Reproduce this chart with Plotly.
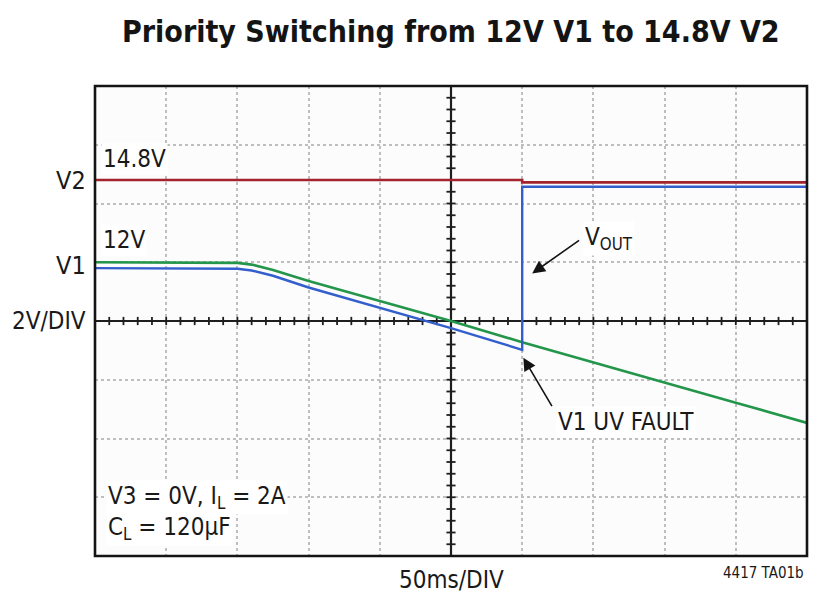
import plotly.graph_objects as go

# ---- data (time in ms, 50 ms/div; voltage in V, 2 V/div) ----
v2_t = [0, 300, 300, 500]
v2_v = [14.8, 14.8, 14.72, 14.72]

v1_t = [0, 90, 100, 110, 125, 150, 200, 250, 300, 350, 400, 450, 500]
v1_v = [12.0, 12.0, 11.98, 11.92, 11.74, 11.36, 10.68, 10.0, 9.28, 8.6, 7.92, 7.22, 6.53]

vout_t = [0, 90, 100, 110, 125, 150, 200, 250, 300, 300, 500]
vout_v = [11.8, 11.8, 11.78, 11.72, 11.54, 11.14, 10.45, 9.76, 9.02, 14.57, 14.57]

x_range = [0, 500]
y_range = [2, 18]
x_div = 50
y_div = 2
x_center = 250
y_center = 10

FONT = "DejaVu Sans Condensed, Liberation Sans Narrow, Arial Narrow, sans-serif"
RED = "rgb(165,35,45)"
GREEN = "rgb(35,150,75)"
BLUE = "rgb(50,95,205)"

fig = go.Figure()
fig.add_trace(go.Scatter(x=v1_t, y=v1_v, mode="lines", line=dict(color=GREEN, width=2.6), hoverinfo="skip"))
fig.add_trace(go.Scatter(x=v2_t, y=v2_v, mode="lines", line=dict(color=RED, width=2.6), hoverinfo="skip"))
fig.add_trace(go.Scatter(x=vout_t, y=vout_v, mode="lines", line=dict(color=BLUE, width=2.4), hoverinfo="skip"))

AX = "rgb(30,30,30)"
shapes = []
# center cross axes
shapes.append(dict(type="line", xref="x", yref="y", x0=x_range[0], x1=x_range[1], y0=y_center, y1=y_center,
                   line=dict(color=AX, width=2.2), layer="between"))
shapes.append(dict(type="line", xref="x", yref="y", x0=x_center, x1=x_center, y0=y_range[0], y1=y_range[1],
                   line=dict(color=AX, width=2.2), layer="between"))
# minor ticks on the center axes (5 per division)
n_x = int((x_range[1] - x_range[0]) / x_div * 5)
for i in range(1, n_x):
    xt = x_range[0] + i * x_div / 5
    shapes.append(dict(type="line", xref="x", yref="y", x0=xt, x1=xt, y0=y_center - 0.14, y1=y_center + 0.14,
                       line=dict(color=AX, width=1.8), layer="between"))
n_y = int((y_range[1] - y_range[0]) / y_div * 5)
for i in range(1, n_y):
    yt = y_range[0] + i * y_div / 5
    shapes.append(dict(type="line", xref="x", yref="y", x0=x_center - 3.2, x1=x_center + 3.2, y0=yt, y1=yt,
                       line=dict(color=AX, width=1.8), layer="between"))
# frame
shapes.append(dict(type="rect", xref="paper", yref="paper", x0=0, x1=1, y0=0, y1=1,
                   line=dict(color="rgb(20,20,20)", width=2.6)))

ann = []
def txt(x, y, s, size=24, xanchor="left", xref="x", yref="y", bg=None, **kw):
    d = dict(x=x, y=y, xref=xref, yref=yref, text=s, showarrow=False, xanchor=xanchor, yanchor="middle",
             font=dict(family=FONT, size=size, color="rgb(25,25,25)"))
    if bg:
        d["bgcolor"] = bg
    d.update(kw)
    ann.append(d)

txt(-0.01, 14.8, "V2", size=25, xanchor="right", xref="paper")
txt(-0.01, 11.9, "V1", size=25, xanchor="right", xref="paper")
txt(-0.01, 10.0, "2V/DIV", xanchor="right", xref="paper")
txt(4, 15.5, "14.8V", bg="white")
txt(4, 12.75, "12V", bg="white")
txt(343, 12.8, "V<sub>OUT</sub>", bg="white")
txt(324, 6.55, "V1 UV FAULT", bg="white")
txt(8, 4.0, "V3 = 0V, I<sub>L</sub> = 2A", bg="white")
txt(8, 2.95, "C<sub>L</sub> = 120µF", bg="white")
txt(0.5, -0.052, "50ms/DIV", xanchor="center", xref="paper", yref="paper")
txt(0.998, -0.037, "4417 TA01b", size=15, xanchor="right", xref="paper", yref="paper")
ann.append(dict(x=0.5, y=1.117, xref="paper", yref="paper", text="<b>Priority Switching from 12V V1 to 14.8V V2</b>",
                showarrow=False, xanchor="center", yanchor="middle",
                font=dict(family=FONT, size=30, color="rgb(20,20,20)")))
# arrows
ann.append(dict(x=307, y=11.62, ax=341, ay=12.78, xref="x", yref="y", axref="x", ayref="y", text="",
                showarrow=True, arrowhead=2, arrowsize=1.6, arrowwidth=1.6, arrowcolor="rgb(20,20,20)"))
ann.append(dict(x=300.8, y=8.75, ax=321.5, ay=7.05, xref="x", yref="y", axref="x", ayref="y", text="",
                showarrow=True, arrowhead=2, arrowsize=1.6, arrowwidth=1.6, arrowcolor="rgb(20,20,20)"))

fig.update_layout(
    width=811, height=590,
    margin=dict(l=87, r=12, t=78, b=42),
    paper_bgcolor="white", plot_bgcolor="rgb(253,252,252)",
    showlegend=False,
    shapes=shapes, annotations=ann,
    xaxis=dict(range=x_range, dtick=x_div, tick0=0, showticklabels=False, ticks="",
               showgrid=True, gridcolor="rgb(190,190,190)", griddash="dot", gridwidth=1.6,
               zeroline=False, showline=False, fixedrange=True),
    yaxis=dict(range=y_range, dtick=y_div, tick0=0, showticklabels=False, ticks="",
               showgrid=True, gridcolor="rgb(190,190,190)", griddash="dot", gridwidth=1.6,
               zeroline=False, showline=False, fixedrange=True),
)

fig.write_html("out.html")
